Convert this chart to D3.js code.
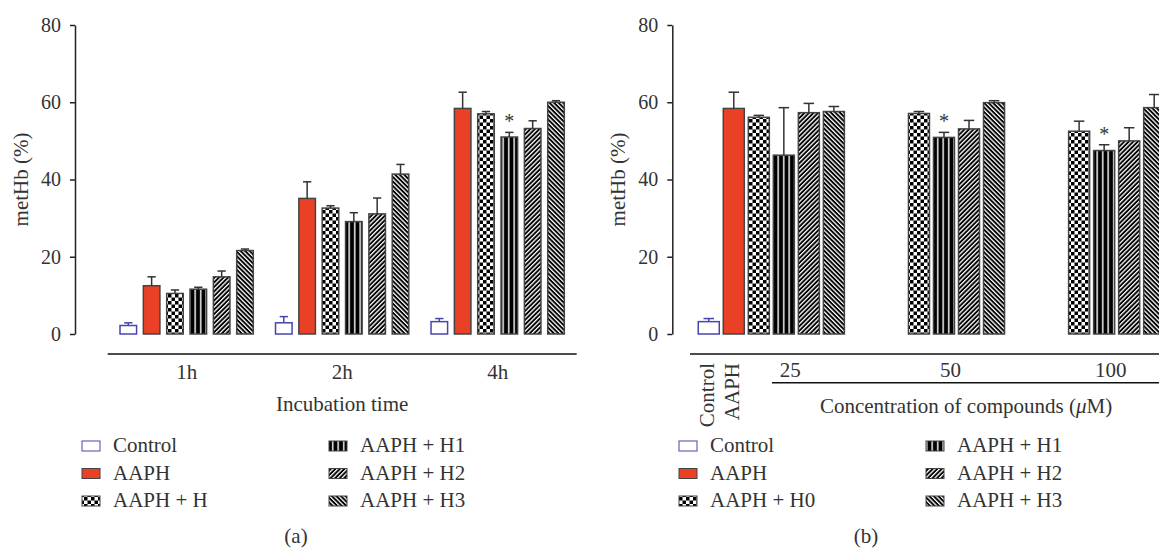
<!DOCTYPE html>
<html>
<head>
<meta charset="utf-8">
<script src="https://cdn.jsdelivr.net/npm/d3@7"></script>
<style>
  body { margin: 0; background: #fff; }
  text { font-family: 'Liberation Serif', 'Times New Roman', serif; fill: #333; }
</style>
</head>
<body>
<script>
// ---- data ----
// panel (a): metHb (%) by incubation time
let groups_a = ['1h', '2h', '4h'];
let series_a = ['ctrl', 'aaph', 'h', 'h1', 'h2', 'h3'];
let mean_1h = [2.2, 12.5, 10.5, 11.6, 14.8, 21.6];
let err_1h = [0.7, 2.3, 0.9, 0.5, 1.5, 0.4];
let mean_2h = [2.9, 35.1, 32.6, 29.1, 31.1, 41.4];
let err_2h = [1.6, 4.3, 0.6, 2.3, 4.1, 2.5];
let mean_4h = [3.2, 58.4, 57.0, 51.0, 53.2, 60.0];
let err_4h = [0.8, 4.2, 0.6, 1.2, 2.0, 0.4];
let stars_a = [['4h', 'h1']];

// panel (b): metHb (%) by concentration
let ref_b = ['ctrl', 'aaph'];
let ref_mean_b = [3.2, 58.4];
let ref_err_b = [0.8, 4.2];
let conc_b = ['25', '50', '100'];
let series_b = ['h0', 'h1', 'h2', 'h3'];
let mean_25 = [56.1, 46.3, 57.3, 57.6];
let err_25 = [0.5, 12.3, 2.4, 1.3];
let mean_50 = [57.1, 50.9, 53.1, 59.9];
let err_50 = [0.5, 1.3, 2.2, 0.5];
let mean_100 = [52.5, 47.5, 50.0, 58.6];
let err_100 = [2.6, 1.5, 3.4, 3.4];
let stars_b = [['50', 'h1'], ['100', 'h1']];

let y_ticks = [0, 20, 40, 60, 80];

// legend labels
let legend_a = ['Control', 'AAPH', 'AAPH + H', 'AAPH + H1', 'AAPH + H2', 'AAPH + H3'];
let legend_b = ['Control', 'AAPH', 'AAPH + H0', 'AAPH + H1', 'AAPH + H2', 'AAPH + H3'];

// ---- styles ----
let fills = {
  ctrl: '#fff', aaph: '#ea4126', h: 'url(#checker)', h0: 'url(#checker)',
  h1: 'url(#vstripe)', h2: 'url(#diagUp)', h3: 'url(#diagDown)'
};
let strokes = { ctrl: '#4646ad' };
let barStroke = '#444';

let svg = d3.select('body').append('svg')
  .attr('width', 1159)
  .attr('height', 550);

// patterns
let defs = svg.append('defs');
let checker = defs.append('pattern').attr('id', 'checker')
  .attr('patternUnits', 'userSpaceOnUse').attr('width', 7).attr('height', 7);
checker.append('rect').attr('width', 7).attr('height', 7).attr('fill', '#fff');
checker.append('rect').attr('width', 3.5).attr('height', 3.5).attr('fill', '#000');
checker.append('rect').attr('x', 3.5).attr('y', 3.5).attr('width', 3.5).attr('height', 3.5).attr('fill', '#000');

let vstripe = defs.append('pattern').attr('id', 'vstripe')
  .attr('patternUnits', 'userSpaceOnUse').attr('width', 5.5).attr('height', 10);
vstripe.append('rect').attr('width', 5.5).attr('height', 10).attr('fill', '#000');
vstripe.append('rect').attr('x', 2).attr('width', 1.4).attr('height', 10).attr('fill', '#fff');

function diag(id, angle) {
  let p = defs.append('pattern').attr('id', id)
    .attr('patternUnits', 'userSpaceOnUse').attr('width', 3.2).attr('height', 10)
    .attr('patternTransform', `rotate(${angle})`);
  p.append('rect').attr('width', 3.2).attr('height', 10).attr('fill', '#000');
  p.append('rect').attr('width', 1.3).attr('height', 10).attr('fill', '#fff');
}
diag('diagUp', 45);
diag('diagDown', -45);

// shared y scale
let y = d3.scaleLinear().domain([0, 80]).range([334, 25]);

function yAxis(x0) {
  let g = svg.append('g')
    .attr('transform', `translate(${x0},0)`)
    .call(d3.axisLeft(y).tickValues(y_ticks).tickSize(5).tickSizeOuter(0).tickPadding(9));
  g.select('.domain').attr('stroke', '#222').attr('stroke-width', 1.5);
  g.selectAll('.tick line').attr('stroke', '#222').attr('stroke-width', 1.5);
  g.selectAll('.tick text').attr('font-size', 20).attr('fill', '#333')
    .attr('font-family', "'Liberation Serif', serif");
  return g;
}

// draws one bar with its upper error bar
function drawBar(g, key, x, w, m, e) {
  let col = strokes[key] || barStroke;
  g.append('rect')
    .attr('x', x).attr('y', y(m))
    .attr('width', w).attr('height', y(0) - y(m))
    .attr('fill', fills[key])
    .attr('stroke', col).attr('stroke-width', 1.5);
  let cx = x + w / 2;
  let cap = w * 0.5;
  g.append('line')
    .attr('x1', cx).attr('x2', cx).attr('y1', y(m)).attr('y2', y(m + e))
    .attr('stroke', strokes[key] || '#333').attr('stroke-width', 1.5);
  g.append('line')
    .attr('x1', cx - cap / 2).attr('x2', cx + cap / 2).attr('y1', y(m + e)).attr('y2', y(m + e))
    .attr('stroke', strokes[key] || '#333').attr('stroke-width', 1.5);
}

// asterisk just above an error bar top
function star(x, top) {
  svg.append('text')
    .attr('x', x).attr('y', top - 4)
    .attr('text-anchor', 'middle')
    .attr('font-size', 20)
    .attr('fill', '#555')
    .text('*');
}

function legend(x0, labels, keys) {
  let g = svg.append('g');
  labels.forEach((lab, i) => {
    let col = Math.floor(i / 3), row = i % 3;
    let base = 452 + row * 27.5;
    let tx = x0 + col * 247;
    g.append('rect')
      .attr('x', tx - 31).attr('y', base - 11)
      .attr('width', 18).attr('height', 10)
      .attr('fill', fills[keys[i]])
      .attr('stroke', strokes[keys[i]] || barStroke).attr('stroke-width', 1);
    g.append('text').attr('x', tx).attr('y', base)
      .attr('font-size', 21).text(lab);
  });
}

// ---- panel (a) ----
let means_a = { '1h': mean_1h, '2h': mean_2h, '4h': mean_4h };
let errs_a = { '1h': err_1h, '2h': err_2h, '4h': err_4h };

let x0a = d3.scaleBand().domain(groups_a).range([120, 564.3]).paddingInner(0.143).paddingOuter(0);
let x1a = d3.scaleBand().domain(series_a).range([0, x0a.bandwidth()]).paddingInner(0.29).paddingOuter(0);

yAxis(75);
let barsA = svg.append('g');
groups_a.forEach(gname => {
  series_a.forEach((s, i) => {
    drawBar(barsA, s, x0a(gname) + x1a(s), x1a.bandwidth(), means_a[gname][i], errs_a[gname][i]);
  });
});
stars_a.forEach(([gname, s]) => {
  let i = series_a.indexOf(s);
  star(x0a(gname) + x1a(s) + x1a.bandwidth() / 2, y(means_a[gname][i] + errs_a[gname][i]));
});

svg.append('line').attr('x1', 107.7).attr('x2', 576.7).attr('y1', 354).attr('y2', 354)
  .attr('stroke', '#111').attr('stroke-width', 1.5);
svg.append('g').selectAll('text').data(groups_a).join('text')
  .attr('x', d => x0a(d) + x0a.bandwidth() / 2)
  .attr('y', 379)
  .attr('text-anchor', 'middle')
  .attr('font-size', 21)
  .text(d => d);
svg.append('text')
  .attr('x', (x0a.range()[0] + x0a.range()[1]) / 2).attr('y', 411)
  .attr('text-anchor', 'middle').attr('font-size', 21)
  .text('Incubation time');
svg.append('text')
  .attr('transform', `translate(28,${(y(0) + y(80)) / 2}) rotate(-90)`)
  .attr('text-anchor', 'middle').attr('font-size', 21)
  .text('metHb (%)');
legend(113, legend_a, ['ctrl', 'aaph', 'h', 'h1', 'h2', 'h3']);
svg.append('text').attr('x', 296).attr('y', 543).attr('text-anchor', 'middle')
  .attr('font-size', 21).text('(a)');

// ---- panel (b) ----
let means_b = { '25': mean_25, '50': mean_50, '100': mean_100 };
let errs_b = { '25': err_25, '50': err_50, '100': err_100 };

let x0b = d3.scaleBand().domain(conc_b).range([748.3, 1164.7]).paddingInner(0.4).paddingOuter(0);
let x1b = d3.scaleBand().domain(series_b).range([0, x0b.bandwidth()]).paddingInner(0.16).paddingOuter(0);
let refX = k => x0b('25') - (ref_b.length - ref_b.indexOf(k)) * x1b.step();

yAxis(672.3);
let barsB = svg.append('g');
ref_b.forEach((k, i) => drawBar(barsB, k, refX(k), x1b.bandwidth(), ref_mean_b[i], ref_err_b[i]));
conc_b.forEach(c => {
  series_b.forEach((s, i) => {
    drawBar(barsB, s, x0b(c) + x1b(s), x1b.bandwidth(), means_b[c][i], errs_b[c][i]);
  });
});
stars_b.forEach(([c, s]) => {
  let i = series_b.indexOf(s);
  star(x0b(c) + x1b(s) + x1b.bandwidth() / 2, y(means_b[c][i] + errs_b[c][i]));
});

svg.append('line').attr('x1', 690).attr('x2', 1159).attr('y1', 354).attr('y2', 354)
  .attr('stroke', '#111').attr('stroke-width', 1.5);
svg.append('line').attr('x1', 772).attr('x2', 1159).attr('y1', 382.7).attr('y2', 382.7)
  .attr('stroke', '#111').attr('stroke-width', 1.5);
svg.append('g').selectAll('text').data(conc_b).join('text')
  .attr('x', d => x0b(d) + x0b.bandwidth() / 2 - 6)
  .attr('y', 377)
  .attr('text-anchor', 'middle')
  .attr('font-size', 21)
  .text(d => d);
svg.append('g').selectAll('text').data(['Control', 'AAPH']).join('text')
  .attr('transform', (d, i) => `translate(${refX(ref_b[i]) + x1b.bandwidth() / 2 + 5},363) rotate(-90)`)
  .attr('text-anchor', 'end')
  .attr('font-size', 21)
  .text(d => d);
svg.append('text')
  .attr('x', 966).attr('y', 413)
  .attr('text-anchor', 'middle').attr('font-size', 21)
  .html('Concentration of compounds (<tspan font-style="italic">μ</tspan>M)');
svg.append('text')
  .attr('transform', `translate(625,${(y(0) + y(80)) / 2}) rotate(-90)`)
  .attr('text-anchor', 'middle').attr('font-size', 21)
  .text('metHb (%)');
legend(710, legend_b, ['ctrl', 'aaph', 'h0', 'h1', 'h2', 'h3']);
svg.append('text').attr('x', 866).attr('y', 543).attr('text-anchor', 'middle')
  .attr('font-size', 21).text('(b)');
</script>
</body>
</html>
